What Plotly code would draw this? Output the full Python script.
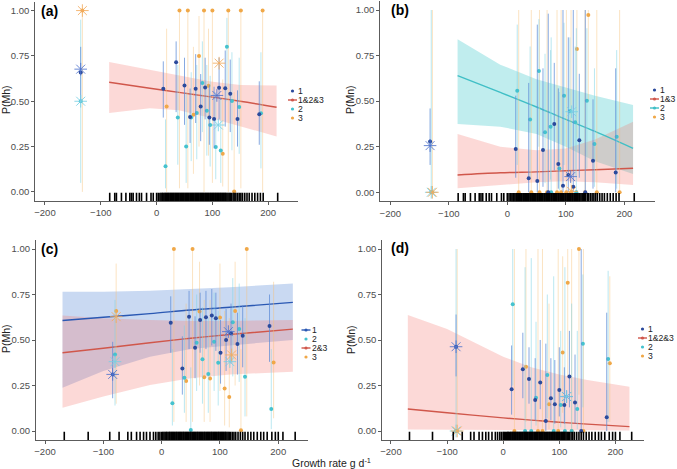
import plotly.graph_objects as go

W, H = 677, 469

# ---------------- DATA ----------------
# rug of growth rates (panels a, b)
rug_ab = [-84, -75, -72, -63, -55, -48, -45, -42, -36, -31, -27, -18, -10, -6, 0, 3, 6, 8, 10, 11, 13, 15, 16, 18,
          19, 21, 22, 24, 25, 27, 28, 30, 31, 33, 34, 36, 37, 39, 40, 42, 43, 45, 46, 48, 49, 51, 52, 54, 55, 57,
          58, 60, 61, 63, 64, 66, 67, 69, 70, 72, 73, 75, 76, 78, 79, 81, 82, 84, 85, 87, 88, 90, 91, 93, 94, 96,
          97, 99, 100, 102, 103, 105, 106, 108, 109, 111, 112, 114, 115, 117, 118, 120, 121, 123, 124, 126, 128,
          130, 132, 134, 137, 139, 142, 145, 148, 151, 154, 158, 162, 166, 171, 176, 181, 186, 191, 217]
# rug of growth rates (panels c, d)
rug_cd = [-167, -126, -89, -73, -58, -52, -43, -37, -31, -26, -20, -14, -10, -6, -3, 0, 2, 4, 6, 8, 9, 11, 13, 14,
          16, 17, 19, 20, 22, 23, 25, 26, 28, 29, 31, 32, 34, 35, 37, 38, 40, 41, 43, 44, 46, 47, 49, 50, 52, 53,
          55, 56, 58, 59, 61, 62, 64, 65, 67, 68, 70, 71, 73, 74, 76, 77, 79, 80, 82, 83, 85, 86, 88, 89, 91, 92,
          94, 95, 97, 98, 100, 101, 103, 104, 106, 107, 109, 110, 112, 114, 116, 118, 121, 124, 127, 131, 135,
          139, 143, 148, 153, 158, 164, 170, 175, 181, 189, 195, 200, 208, 229]

# ---- panel (a): P(Mh) ----
a1_x = [12, 35, 50, 60, 70, 79, 87, 94.5, 103, 112, 123, 132, 145, 184, -136]
a1_y = [0.569, 0.715, 0.587, 0.413, 0.569, 0.471, 0.576, 0.41, 0.402, 0.574, 0.572, 0.541, 0.402, 0.429, 0.658]
a1_lo = [0.41, 0.44, 0.37, 0.27, 0.38, 0.28, 0.40, 0.26, 0.24, 0.40, 0.36, 0.33, 0.25, 0.26, 0.50]
a1_hi = [0.72, 0.83, 0.74, 0.57, 0.76, 0.65, 0.74, 0.59, 0.58, 0.74, 0.78, 0.73, 0.56, 0.61, 0.80]
a2_x = [16, 38, 53, 62, 72, 82, 90, 96, 106, 115, 126, 135, 148, 187, -136]
a2_y = [0.141, 0.41, 0.251, 0.41, 0.435, 0.60, 0.447, 0.369, 0.248, 0.229, 0.801, 0.502, 0.468, 0.434, 0.50]
a2_lo = [0.02, 0.15, 0.05, 0.17, 0.18, 0.33, 0.20, 0.14, 0.07, 0.05, 0.50, 0.23, 0.21, 0.13, 0.05]
a2_hi = [0.40, 0.70, 0.55, 0.66, 0.70, 0.83, 0.70, 0.64, 0.55, 0.52, 0.96, 0.77, 0.74, 0.77, 0.95]
a3_x = [41, 56, 85, 100, 128.5, 151, 190, 18, 66, 76, 93, 118.5, 139, -133]
a3_y = [1.0, 1.0, 1.0, 1.0, 1.0, 1.0, 1.0, 0.471, 0.425, 0.75, 0.585, 0.211, 0.003, 1.0]
a3_lo = [0.02, 0.02, 0.0, 0.05, 0.0, 0.02, 0.0, 0.0, 0.10, 0.25, 0.20, 0.03, 0.0, 0.0]
a3_hi = [1.0, 1.0, 1.0, 1.0, 1.0, 1.0, 1.0, 0.90, 0.80, 0.97, 0.90, 0.62, 0.55, 1.0]
a_star_x = [[108, -136], [110.6, -136], [112, -133]]
a_star_y = [[0.532, 0.677], [0.369, 0.50], [0.71, 1.0]]
a_fit_x = [-85, -12, 40, 97, 150, 215]
a_fit_y = [0.605, 0.572, 0.549, 0.524, 0.50, 0.467]
a_fit_lo = [0.435, 0.462, 0.45, 0.408, 0.36, 0.306]
a_fit_hi = [0.717, 0.673, 0.64, 0.609, 0.59, 0.587]

# ---- panel (b): P(Mn) ----
b1_x = [14.4, 36.6, 51.3, 61, 80.3, 87.2, 95.2, 104.3, 112.8, 123.1, 146.5, 185.3, 70, 133.3, -132]
b1_y = [0.238, 0.077, 0.062, 0.232, 0.375, 0.155, 0.036, 0.095, 0.031, 0.285, 0.173, 0.108, 0.0, 0.0, 0.278]
b1_lo = [0.08, 0.0, 0.0, 0.03, 0.12, 0.02, 0.0, 0.0, 0.0, 0.08, 0.02, 0.0, 0.0, 0.0, 0.15]
b1_hi = [0.53, 0.60, 0.92, 0.68, 0.71, 0.57, 1.0, 0.85, 1.0, 0.65, 0.51, 0.68, 0.98, 1.0, 0.46]
b2_x = [17, 39, 54, 64.5, 74, 89, 97, 107, 116, 136, 149, 187, 75, 118, -130]
b2_y = [0.557, 0.40, 0.665, 0.329, 0.36, 0.131, 0.53, 0.446, 0.384, 0.502, 0.265, 0.305, 0.0, 0.0, 0.0]
b2_lo = [0.15, 0.08, 0.25, 0.05, 0.07, 0.01, 0.15, 0.12, 0.09, 0.13, 0.03, 0.02, 0.0, 0.0, 0.0]
b2_hi = [0.92, 0.80, 0.95, 0.76, 0.78, 0.55, 0.93, 0.85, 0.80, 0.90, 0.68, 0.78, 0.85, 0.90, 1.0]
b3_x = [138.5, 119, 19.5, 41, 55, 68, 85, 92, 101, 109, 133, 153, 192, -128]
b3_y = [0.973, 0.786, 0.0, 0.0, 0.0, 0.0, 0.0, 0.0, 0.0, 0.0, 0.0, 0.0, 0.0, 0.0]
b3_lo = [0.5, 0.3, 0.0, 0.0, 0.0, 0.0, 0.0, 0.0, 0.0, 0.0, 0.0, 0.0, 0.0, 0.0]
b3_hi = [1.0, 1.0, 1.0, 1.0, 1.0, 1.0, 1.0, 1.0, 1.0, 1.0, 1.0, 1.0, 1.0, 1.0]
b_star_x = [[108.3, -132], [110, -130], [110, -128]]
b_star_y = [[0.086, 0.256], [0.442, 0.0], [0.005, 0.0]]
b_fit_x = [-85, -12, 50, 100, 150, 215]
b_red_y = [0.095, 0.107, 0.112, 0.118, 0.124, 0.132]
b_red_lo = [0.022, 0.04, 0.055, 0.06, 0.055, 0.04]
b_red_hi = [0.32, 0.25, 0.23, 0.24, 0.29, 0.387]
b_cyan_y = [0.64, 0.548, 0.468, 0.40, 0.334, 0.241]
b_cyan_lo = [0.375, 0.36, 0.32, 0.25, 0.17, 0.10]
b_cyan_hi = [0.84, 0.70, 0.62, 0.575, 0.53, 0.479]

# ---- panel (c): P(Mh) ----
c1_x = [15.6, 35.5, 47, 57.3, 66, 76, 86, 93, 101, 110.5, 119, 130, 139, 185, -84]
c1_y = [0.595, 0.344, 0.628, 0.458, 0.61, 0.625, 0.634, 0.619, 0.43, 0.50, 0.537, 0.478, 0.524, 0.577, 0.311]
c1_lo = [0.43, 0.20, 0.45, 0.29, 0.43, 0.45, 0.47, 0.44, 0.26, 0.33, 0.37, 0.31, 0.35, 0.38, 0.18]
c1_hi = [0.74, 0.52, 0.77, 0.63, 0.76, 0.77, 0.78, 0.76, 0.61, 0.67, 0.70, 0.65, 0.69, 0.75, 0.49]
c2_x = [18.4, 39, 50, 60, 70, 80, 90, 97, 122, 133, 143, 188, -80]
c2_y = [0.152, 0.293, 0.005, 0.485, 0.394, 0.313, 0.491, 0.375, 0.597, 0.56, 0.298, 0.121, 0.42]
c2_lo = [0.03, 0.10, 0.0, 0.22, 0.15, 0.10, 0.22, 0.14, 0.30, 0.27, 0.08, 0.01, 0.14]
c2_hi = [0.45, 0.58, 0.35, 0.75, 0.68, 0.62, 0.76, 0.66, 0.84, 0.81, 0.62, 0.45, 0.72]
c3_x = [21, 53, 146, 42, 65, 73, 83, 100, 108, 116, 126, 136, 192, -78]
c3_y = [1.0, 1.0, 1.0, 0.275, 0.656, 0.295, 0.289, 0.623, 0.234, 0.187, 0.66, 0.004, 0.377, 0.66]
c3_lo = [0.05, 0.05, 0.08, 0.05, 0.25, 0.05, 0.05, 0.22, 0.03, 0.02, 0.25, 0.0, 0.07, 0.15]
c3_hi = [1.0, 1.0, 1.0, 0.70, 0.93, 0.72, 0.72, 0.92, 0.66, 0.62, 0.93, 0.45, 0.82, 0.92]
c_star_x = [[114.4, -84], [117, -80], [120, -78]]
c_star_y = [[0.546, 0.311], [0.381, 0.381], [0.418, 0.628]]
c_fit_x = [-170, -100, -20, 50, 117, 225]
c_blue_y = [0.607, 0.625, 0.645, 0.665, 0.68, 0.707]
c_blue_lo = [0.237, 0.33, 0.408, 0.45, 0.47, 0.50]
c_blue_hi = [0.765, 0.765, 0.77, 0.78, 0.79, 0.81]
c_red_y = [0.43, 0.455, 0.485, 0.51, 0.53, 0.56]
c_red_lo = [0.128, 0.19, 0.253, 0.29, 0.31, 0.326]
c_red_hi = [0.635, 0.62, 0.61, 0.605, 0.605, 0.61]

# ---- panel (d): P(Mn) ----
d1_x = [15, 35, 46, 57, 66, 76, 85, 92, 100, 109, 118, 128, 139, 184.5, -84]
d1_y = [0.229, 0.339, 0.286, 0.17, 0.267, 0.055, 0.18, 0.147, 0.225, 0.143, 0.299, 0.156, 0.0, 0.075, 0.463]
d1_lo = [0.09, 0.18, 0.15, 0.06, 0.12, 0.0, 0.06, 0.04, 0.08, 0.04, 0.13, 0.04, 0.0, 0.0, 0.30]
d1_hi = [0.47, 0.54, 0.46, 0.40, 0.50, 0.48, 0.40, 0.39, 0.46, 0.35, 0.55, 0.42, 1.0, 0.65, 0.64]
d2_x = [17, 39, 58.5, 78.6, 102.5, 132, 142, 187, 50, 90, 110, 122, -84]
d2_y = [0.696, 0.0, 0.183, 0.308, 0.143, 0.121, 0.48, 0.396, 0.0, 0.0, 0.0, 0.0, 0.0]
d2_lo = [0.25, 0.0, 0.03, 0.07, 0.02, 0.01, 0.13, 0.05, 0.0, 0.0, 0.0, 0.0, 0.0]
d2_hi = [1.0, 0.90, 0.60, 0.75, 0.55, 0.55, 0.86, 0.88, 0.95, 0.85, 0.90, 0.70, 1.0]
d3_x = [40.6, 81.6, 106, 115, 135, 190, 20, 62, 70, 98, 122, 143, -82]
d3_y = [0.353, 0.147, 0.432, 0.815, 1.0, 0.372, 0.0, 0.0, 0.0, 0.0, 0.0, 0.0, 0.0]
d3_lo = [0.05, 0.01, 0.10, 0.30, 0.20, 0.05, 0.0, 0.0, 0.0, 0.0, 0.0, 0.0, 0.0]
d3_hi = [1.0, 0.70, 0.96, 1.0, 1.0, 0.85, 1.0, 1.0, 1.0, 1.0, 1.0, 1.0, 1.0]
d_star_x = [[113, -84], [113, -84], [-82]]
d_star_y = [[0.189, 0.463], [0.19, 0.0], [0.0]]
d_fit_x = [-170, -100, 0, 50, 100, 150, 225]
d_red_y = [0.121, 0.10, 0.072, 0.06, 0.048, 0.038, 0.024]
d_red_lo = [0.008, 0.008, 0.007, 0.006, 0.005, 0.004, 0.003]
d_red_hi = [0.637, 0.56, 0.408, 0.35, 0.31, 0.28, 0.243]

x_ticks = [-200, -100, 0, 100, 200]
y_ticks = [0, 0.25, 0.5, 0.75, 1.0]
y_ticktext = ["0.00", "0.25", "0.50", "0.75", "1.00"]

# ---------------- STYLE ----------------
C1, C2, C3 = "#2b4a9c", "#45c2ce", "#f0a848"
BAR1, BAR2, BAR3 = "rgba(95,140,215,0.75)", "rgba(130,212,228,0.55)", "rgba(246,192,120,0.45)"
STAR1, STAR2, STAR3 = "rgba(80,115,205,0.85)", "rgba(120,208,228,0.85)", "rgba(242,172,95,0.85)"
RED, CYAN, BLUE = "#d0574b", "#40bfc6", "#2a58b3"
F_RED, F_CYAN, F_BLUE = "rgba(244,120,110,0.28)", "rgba(30,190,195,0.28)", "rgba(60,120,210,0.28)"
FONT = "Liberation Sans, Arial, sans-serif"

fig = go.Figure()

panels = {
    "a": dict(xd=(35, 298), yd=(1.5, 201), xr=(-217.9, 253.4)),
    "b": dict(xd=(380, 655.3), yd=(0.9, 201.4), xr=(-217.6, 253)),
    "c": dict(xd=(35.7, 308), yd=(239.9, 440.1), xr=(-216, 251)),
    "d": dict(xd=(382, 643.7), yd=(239.9, 440.1), xr=(-216, 250.4)),
}
axis_ids = {"a": ("x", "y"), "b": ("x2", "y2"), "c": ("x3", "y3"), "d": ("x4", "y4")}


def ribbon(p, xs, lo, hi, fill):
    xa, ya = axis_ids[p]
    fig.add_trace(go.Scatter(x=list(xs) + list(xs)[::-1], y=list(hi) + list(lo)[::-1], fill="toself",
                             fillcolor=fill, line=dict(width=0), mode="lines", hoverinfo="skip",
                             showlegend=False, xaxis=xa, yaxis=ya))


def fitline(p, xs, ys, color):
    xa, ya = axis_ids[p]
    fig.add_trace(go.Scatter(x=xs, y=ys, mode="lines", line=dict(color=color, width=1.4, shape="spline"),
                             showlegend=False, xaxis=xa, yaxis=ya))


def series(p, xs, ys, lo, hi, color, barcolor):
    xa, ya = axis_ids[p]
    fig.add_trace(go.Scatter(
        x=xs, y=ys, mode="markers", marker=dict(size=4, color=color),
        error_y=dict(type="data", symmetric=False,
                     array=[h - v for h, v in zip(hi, ys)],
                     arrayminus=[v - l for v, l in zip(ys, lo)],
                     color=barcolor, thickness=1, width=0),
        showlegend=False, xaxis=xa, yaxis=ya))


def stars(p, xs, ys, color):
    xa, ya = axis_ids[p]
    fig.add_trace(go.Scatter(x=xs, y=ys, mode="markers",
                             marker=dict(symbol="asterisk-open", size=10.5, color=color,
                                         line=dict(width=1, color=color)),
                             showlegend=False, xaxis=xa, yaxis=ya))


def rug(p, xs):
    xa, ya = axis_ids[p]
    fig.add_trace(go.Scatter(x=xs, y=[-0.031] * len(xs), mode="markers",
                             marker=dict(symbol="line-ns-open", size=7, color="black",
                                         line=dict(width=1.6, color="black")),
                             showlegend=False, xaxis=xa, yaxis=ya))


# panel a
ribbon("a", a_fit_x, a_fit_lo, a_fit_hi, F_RED)
fitline("a", a_fit_x, a_fit_y, RED)
series("a", a3_x, a3_y, a3_lo, a3_hi, C3, BAR3)
series("a", a2_x, a2_y, a2_lo, a2_hi, C2, BAR2)
series("a", a1_x, a1_y, a1_lo, a1_hi, C1, BAR1)
for sx, sy, sc in zip(a_star_x, a_star_y, [STAR1, STAR2, STAR3]):
    stars("a", sx, sy, sc)
rug("a", rug_ab)

# panel b
ribbon("b", b_fit_x, b_cyan_lo, b_cyan_hi, F_CYAN)
ribbon("b", b_fit_x, b_red_lo, b_red_hi, F_RED)
fitline("b", b_fit_x, b_cyan_y, CYAN)
fitline("b", b_fit_x, b_red_y, RED)
series("b", b3_x, b3_y, b3_lo, b3_hi, C3, BAR3)
series("b", b2_x, b2_y, b2_lo, b2_hi, C2, BAR2)
series("b", b1_x, b1_y, b1_lo, b1_hi, C1, BAR1)
for sx, sy, sc in zip(b_star_x, b_star_y, [STAR1, STAR2, STAR3]):
    stars("b", sx, sy, sc)
rug("b", rug_ab)

# panel c
ribbon("c", c_fit_x, c_blue_lo, c_blue_hi, F_BLUE)
ribbon("c", c_fit_x, c_red_lo, c_red_hi, F_RED)
fitline("c", c_fit_x, c_blue_y, BLUE)
fitline("c", c_fit_x, c_red_y, RED)
series("c", c3_x, c3_y, c3_lo, c3_hi, C3, BAR3)
series("c", c2_x, c2_y, c2_lo, c2_hi, C2, BAR2)
series("c", c1_x, c1_y, c1_lo, c1_hi, C1, BAR1)
for sx, sy, sc in zip(c_star_x, c_star_y, [STAR1, STAR2, STAR3]):
    stars("c", sx, sy, sc)
rug("c", rug_cd)

# panel d
ribbon("d", d_fit_x, d_red_lo, d_red_hi, F_RED)
fitline("d", d_fit_x, d_red_y, RED)
series("d", d3_x, d3_y, d3_lo, d3_hi, C3, BAR3)
series("d", d2_x, d2_y, d2_lo, d2_hi, C2, BAR2)
series("d", d1_x, d1_y, d1_lo, d1_hi, C1, BAR1)
for sx, sy, sc in zip(d_star_x, d_star_y, [STAR1, STAR2, STAR3]):
    stars("d", sx, sy, sc)
rug("d", rug_cd)

# ---------------- AXES ----------------
layout = dict(template="none", width=W, height=H, autosize=False, margin=dict(l=0, r=0, t=0, b=0, pad=0),
              plot_bgcolor="white", paper_bgcolor="white", showlegend=False, hovermode=False,
              font=dict(family=FONT, size=10, color="#222"))
for i, p in enumerate(["a", "b", "c", "d"]):
    cfg = panels[p]
    sfx = "" if i == 0 else str(i + 1)
    xdom = [cfg["xd"][0] / W, cfg["xd"][1] / W]
    ydom = [1 - cfg["yd"][1] / H, 1 - cfg["yd"][0] / H]
    common = dict(showline=True, linecolor="#333", linewidth=0.8, ticks="outside", ticklen=3,
                  tickcolor="#333", tickwidth=0.8, showgrid=False, zeroline=False, automargin=False,
                  tickfont=dict(family=FONT, size=9.5, color="#4d4d4d"))
    layout["xaxis" + sfx] = dict(domain=xdom, range=list(cfg["xr"]), tickvals=x_ticks,
                                 anchor="y" + sfx, **common)
    layout["yaxis" + sfx] = dict(domain=ydom, range=[-0.05, 1.05], tickvals=y_ticks, ticktext=y_ticktext,
                                 anchor="x" + sfx, **common)
fig.update_layout(**layout)


def px2paper(px, py):
    return px / W, 1 - py / H


annotations = []
shapes = []

# panel tags
for tag, (px, py) in {"(a)": (40, 11), "(b)": (390, 10), "(c)": (40, 249), "(d)": (390, 248)}.items():
    x, y = px2paper(px, py)
    annotations.append(dict(x=x, y=y, xref="paper", yref="paper", text="<b>%s</b>" % tag, showarrow=False,
                            xanchor="left", yanchor="middle", borderpad=0,
                            font=dict(size=14, color="black", family=FONT)))

# y titles
for txt, (px, py) in [("P(Mh)", (6, 100)), ("P(Mn)", (350, 100)), ("P(Mh)", (6, 339)), ("P(Mn)", (351, 340))]:
    x, y = px2paper(px, py)
    annotations.append(dict(x=x, y=y, xref="paper", yref="paper", text=txt, showarrow=False, textangle=-90,
                            xanchor="center", yanchor="middle", borderpad=0,
                            font=dict(size=10.5, color="#222", family=FONT)))

# x title
x, y = px2paper(331, 462)
annotations.append(dict(x=x, y=y, xref="paper", yref="paper", text="Growth rate g d<sup>-1</sup>",
                        showarrow=False, xanchor="center", yanchor="middle", borderpad=0,
                        font=dict(size=10.5, color="#222", family=FONT)))

# manual legends
legends = [
    (292.5, 297, [91, 100, 109, 118], [("1", "dot", C1), ("1&2&3", "line", RED), ("2", "dot", C2), ("3", "dot", C3)]),
    (654.5, 659, [90, 99, 108, 117], [("1", "dot", C1), ("1&3", "line", RED), ("2", "line", CYAN), ("3", "dot", C3)]),
    (306, 310.5, [330, 339, 348, 357], [("1", "line", BLUE), ("2", "dot", C2), ("2&3", "line", RED), ("3", "dot", C3)]),
    (642.5, 647, [329, 338, 347, 356], [("1", "dot", C1), ("1&2&3", "line", RED), ("2", "dot", C2), ("3", "dot", C3)]),
]
for mx, tx, rows, entries in legends:
    for py, (label, kind, col) in zip(rows, entries):
        if kind == "line":
            x0, y0 = px2paper(mx - 4.5, py)
            x1, _ = px2paper(mx + 4.5, py)
            shapes.append(dict(type="line", xref="paper", yref="paper", x0=x0, x1=x1, y0=y0, y1=y0,
                               line=dict(color=col, width=1.4)))
        cx0, cy0 = px2paper(mx - 1.6, py + 1.6)
        cx1, cy1 = px2paper(mx + 1.6, py - 1.6)
        shapes.append(dict(type="circle", xref="paper", yref="paper", x0=cx0, x1=cx1, y0=cy0, y1=cy1,
                           fillcolor=col, line=dict(width=0)))
        x, y = px2paper(tx, py)
        annotations.append(dict(x=x, y=y, xref="paper", yref="paper", text=label, showarrow=False,
                                xanchor="left", yanchor="middle", borderpad=0,
                                font=dict(size=8.6, color="#222", family=FONT)))

fig.update_layout(annotations=annotations, shapes=shapes)
fig.write_html("out.html", config={"displayModeBar": False, "staticPlot": True},
               post_script="document.body.style.margin='0px';")
